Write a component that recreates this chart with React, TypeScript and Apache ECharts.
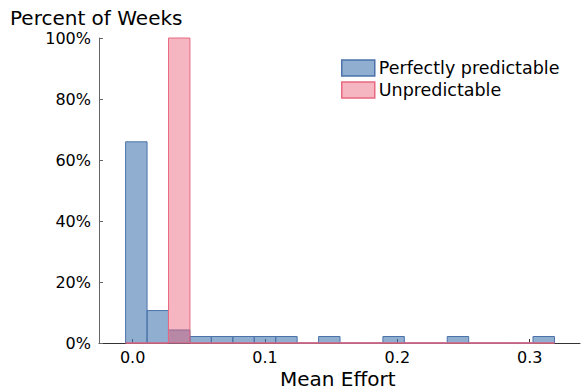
import React, { useEffect, useRef } from "react";
import * as echarts from "echarts";

const binEdges = [
  -0.0053, 0.0109, 0.0271, 0.0433, 0.0595, 0.0757, 0.0919, 0.1081, 0.1243, 0.1405,
  0.1567, 0.1729, 0.1891, 0.2053, 0.2215, 0.2377, 0.2539, 0.2701, 0.2863, 0.3025, 0.3187,
];
const perfectlyPredictable = [
  65.96, 10.64, 4.26, 2.13, 2.13, 2.13, 2.13, 2.13, 0, 2.13,
  0, 0, 2.13, 0, 0, 2.13, 0, 0, 0, 2.13,
];
const unpredictable = [
  0, 0, 100, 0, 0, 0, 0, 0, 0, 0,
  0, 0, 0, 0, 0, 0, 0, 0, 0, 0,
];
const seriesNames = ["Perfectly predictable", "Unpredictable"];
const xTicks = [0, 0.1, 0.2, 0.3];
const yTicks = [0, 20, 40, 60, 80, 100];

const FONT = "DejaVu Sans";
const BLUE_FILL = "rgba(70,120,175,0.6)";
const BLUE_EDGE = "rgb(75,115,170)";
const PINK_FILL = "rgba(232,92,118,0.45)";
const PINK_EDGE = "rgb(232,105,128)";

function histData(vals: number[]) {
  return vals.map((v, i) => [binEdges[i], binEdges[i + 1], v]);
}

function makeRender(fill: string, edge: string) {
  return (params: any, api: any) => {
    const x0 = api.value(0);
    const x1 = api.value(1);
    const y = api.value(2);
    const p0 = api.coord([x0, 0]);
    const p1 = api.coord([x1, y]);
    return {
      type: "rect",
      shape: { x: p0[0], y: p1[1], width: p1[0] - p0[0], height: p0[1] - p1[1] },
      style: { fill, stroke: edge, lineWidth: 1 },
    };
  };
}

export default function App() {
  const ref = useRef<HTMLDivElement>(null);
  useEffect(() => {
    if (!ref.current) return;
    const chart = echarts.init(ref.current, undefined, { renderer: "svg" });
    chart.setOption({
      animation: false,
      grid: { left: 99, top: 38, width: 481, height: 305, containLabel: false },
      xAxis: {
        type: "value",
        min: -0.0254,
        max: 0.338,
        splitLine: { show: false },
        axisLine: { show: true, onZero: false, lineStyle: { color: "#333", width: 1 } },
        axisTick: { show: true, inside: true, length: 4, customValues: xTicks, lineStyle: { color: "#333" } },
        axisLabel: {
          customValues: xTicks,
          formatter: (v: number) => v.toFixed(1),
          color: "#000",
          fontFamily: FONT,
          fontSize: 16,
          margin: 6,
        },
      },
      yAxis: {
        type: "value",
        min: 0,
        max: 100,
        splitLine: { show: false },
        axisLine: { show: true, onZero: false, lineStyle: { color: "#666", width: 1 } },
        axisTick: { show: true, inside: true, length: 4, customValues: yTicks, lineStyle: { color: "#666" } },
        axisLabel: {
          customValues: yTicks,
          formatter: (v: number) => `${v}%`,
          color: "#000",
          fontFamily: FONT,
          fontSize: 16,
          margin: 8,
        },
      },
      legend: {
        orient: "vertical",
        left: 336,
        top: 54,
        itemWidth: 33,
        itemHeight: 16,
        itemGap: 4,
        textStyle: { fontFamily: FONT, fontSize: 17.5, color: "#000", padding: [0, 0, 0, -1] },
        data: [
          { name: seriesNames[0], icon: "rect", itemStyle: { color: BLUE_FILL, borderColor: BLUE_EDGE, borderWidth: 1.5 } },
          { name: seriesNames[1], icon: "rect", itemStyle: { color: PINK_FILL, borderColor: PINK_EDGE, borderWidth: 1.5 } },
        ],
      },
      graphic: [
        {
          type: "text",
          left: 10,
          top: 8,
          style: { text: "Percent of Weeks", font: `20px ${FONT}`, fill: "#000" },
        },
        {
          type: "text",
          left: 280,
          top: 369,
          style: { text: "Mean Effort", font: `20px ${FONT}`, fill: "#000" },
        },
      ],
      series: [
        {
          name: seriesNames[0],
          type: "custom",
          renderItem: makeRender(BLUE_FILL, BLUE_EDGE),
          encode: { x: [0, 1], y: 2 },
          itemStyle: { color: BLUE_FILL },
          data: histData(perfectlyPredictable),
        },
        {
          name: seriesNames[1],
          type: "custom",
          renderItem: makeRender(PINK_FILL, PINK_EDGE),
          encode: { x: [0, 1], y: 2 },
          itemStyle: { color: PINK_FILL },
          data: histData(unpredictable),
        },
      ],
    });
    return () => chart.dispose();
  }, []);
  return <div ref={ref} style={{ width: 581, height: 390, position: "absolute", left: 0, top: 0 }} />;
}
